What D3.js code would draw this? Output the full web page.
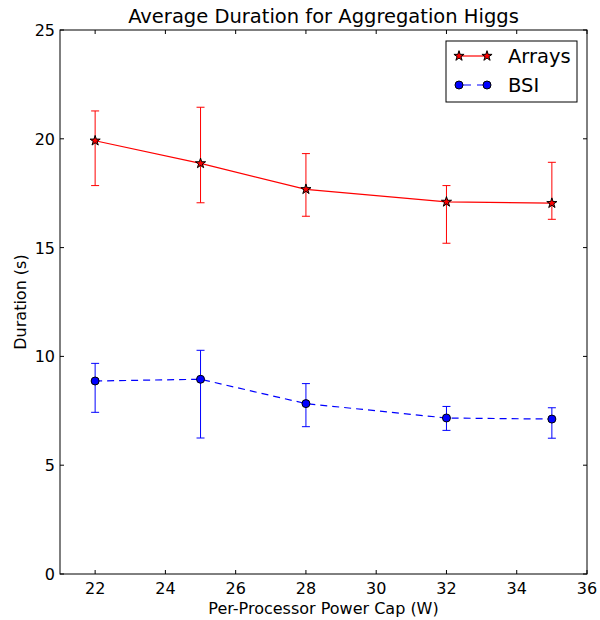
<!DOCTYPE html>
<html>
<head>
<meta charset="utf-8">
<script src="https://cdn.jsdelivr.net/npm/d3@7"></script>
<style>
  body { margin: 0; background: #fff; }
  text { font-family: "DejaVu Sans", sans-serif; fill: #000; }
</style>
</head>
<body>
<svg id="chart" width="600" height="620"></svg>
<script>
const powerCaps = [22, 25, 28, 32, 35];
const arraysMean = [19.91, 18.87, 17.68, 17.10, 17.04];
const arraysLow  = [17.85, 17.06, 16.44, 15.20, 16.30];
const arraysHigh = [21.28, 21.45, 19.32, 17.85, 18.92];
const bsiMean = [8.87, 8.95, 7.83, 7.17, 7.12];
const bsiLow  = [7.43, 6.25, 6.77, 6.60, 6.24];
const bsiHigh = [9.68, 10.28, 8.75, 7.70, 7.64];
const xTicks = [22, 24, 26, 28, 30, 32, 34, 36];
const yTicks = [0, 5, 10, 15, 20, 25];

const svg = d3.select("#chart");
const m = {left: 60, right: 587, top: 30, bottom: 574};
const x = d3.scaleLinear().domain([21, 36]).range([m.left, m.right]);
const y = d3.scaleLinear().domain([0, 25]).range([m.bottom, m.top]);

const series = [
  {name: "Arrays", color: "#ff0000", mean: arraysMean, lo: arraysLow, hi: arraysHigh, marker: "star", dash: null},
  {name: "BSI", color: "#0000ff", mean: bsiMean, lo: bsiLow, hi: bsiHigh, marker: "circle", dash: "7,5"}
];

const g = svg.append("g");
const line = d3.line().x(d => x(d[0])).y(d => y(d[1]));
const star = d3.symbol().type(d3.symbolStar).size(32);

function marker(sel, s, cx, cy) {
  if (s.marker === "star") {
    sel.append("path").attr("d", star()).attr("transform", `translate(${cx},${cy})`)
      .attr("fill", s.color).attr("stroke", "#000").attr("stroke-width", 1);
  } else {
    sel.append("circle").attr("cx", cx).attr("cy", cy).attr("r", 4)
      .attr("fill", s.color).attr("stroke", "#000").attr("stroke-width", 1);
  }
}

series.forEach(s => {
  const pts = powerCaps.map((c, i) => [c, s.mean[i]]);
  powerCaps.forEach((c, i) => {
    g.append("line").attr("x1", x(c)).attr("x2", x(c)).attr("y1", y(s.lo[i])).attr("y2", y(s.hi[i]))
      .attr("stroke", s.color).attr("stroke-width", 1);
    [s.lo[i], s.hi[i]].forEach(v => {
      g.append("line").attr("x1", x(c) - 4).attr("x2", x(c) + 4).attr("y1", y(v)).attr("y2", y(v))
        .attr("stroke", s.color).attr("stroke-width", 1);
    });
  });
  g.append("path").datum(pts).attr("d", line).attr("fill", "none")
    .attr("stroke", s.color).attr("stroke-width", 1.2)
    .attr("stroke-dasharray", s.dash);
  pts.forEach(p => marker(g, s, x(p[0]), y(p[1])));
});

svg.append("rect").attr("x", m.left).attr("y", m.top).attr("width", m.right - m.left).attr("height", m.bottom - m.top)
  .attr("fill", "none").attr("stroke", "#000").attr("stroke-width", 1);

const tl = 4;
xTicks.forEach(t => {
  svg.append("line").attr("x1", x(t)).attr("x2", x(t)).attr("y1", m.bottom).attr("y2", m.bottom - tl).attr("stroke", "#000");
  svg.append("line").attr("x1", x(t)).attr("x2", x(t)).attr("y1", m.top).attr("y2", m.top + tl).attr("stroke", "#000");
  svg.append("text").attr("x", x(t)).attr("y", m.bottom + 20).attr("text-anchor", "middle")
    .attr("font-size", "16px").text(t);
});
yTicks.forEach(t => {
  svg.append("line").attr("x1", m.left).attr("x2", m.left + tl).attr("y1", y(t)).attr("y2", y(t)).attr("stroke", "#000");
  svg.append("line").attr("x1", m.right).attr("x2", m.right - tl).attr("y1", y(t)).attr("y2", y(t)).attr("stroke", "#000");
  svg.append("text").attr("x", m.left - 5).attr("y", y(t) + 6).attr("text-anchor", "end")
    .attr("font-size", "16px").text(t);
});

svg.append("text").attr("x", (m.left + m.right) / 2).attr("y", 23).attr("text-anchor", "middle")
  .attr("font-size", "19.5px").text("Average Duration for Aggregation Higgs");
svg.append("text").attr("x", (m.left + m.right) / 2).attr("y", 614).attr("text-anchor", "middle")
  .attr("font-size", "16px").text("Per-Processor Power Cap (W)");
svg.append("text").attr("transform", `translate(26,${(m.top + m.bottom) / 2}) rotate(-90)`).attr("text-anchor", "middle")
  .attr("font-size", "16px").text("Duration (s)");

const lg = svg.append("g");
lg.append("rect").attr("x", 446).attr("y", 41).attr("width", 131).attr("height", 61)
  .attr("fill", "#fff").attr("stroke", "#000").attr("stroke-width", 1);
series.forEach((s, i) => {
  const ly = 56 + i * 29;
  lg.append("line").attr("x1", 459).attr("x2", 487).attr("y1", ly).attr("y2", ly)
    .attr("stroke", s.color).attr("stroke-width", 1.2).attr("stroke-dasharray", s.dash ? "8,6" : null)
    .attr("stroke-dashoffset", s.dash ? -4 : null);
  [459, 487].forEach(mx => marker(lg, s, mx, ly));
  lg.append("text").attr("x", 508).attr("y", ly + 7).attr("font-size", "19.5px").text(s.name);
});
</script>
</body>
</html>
